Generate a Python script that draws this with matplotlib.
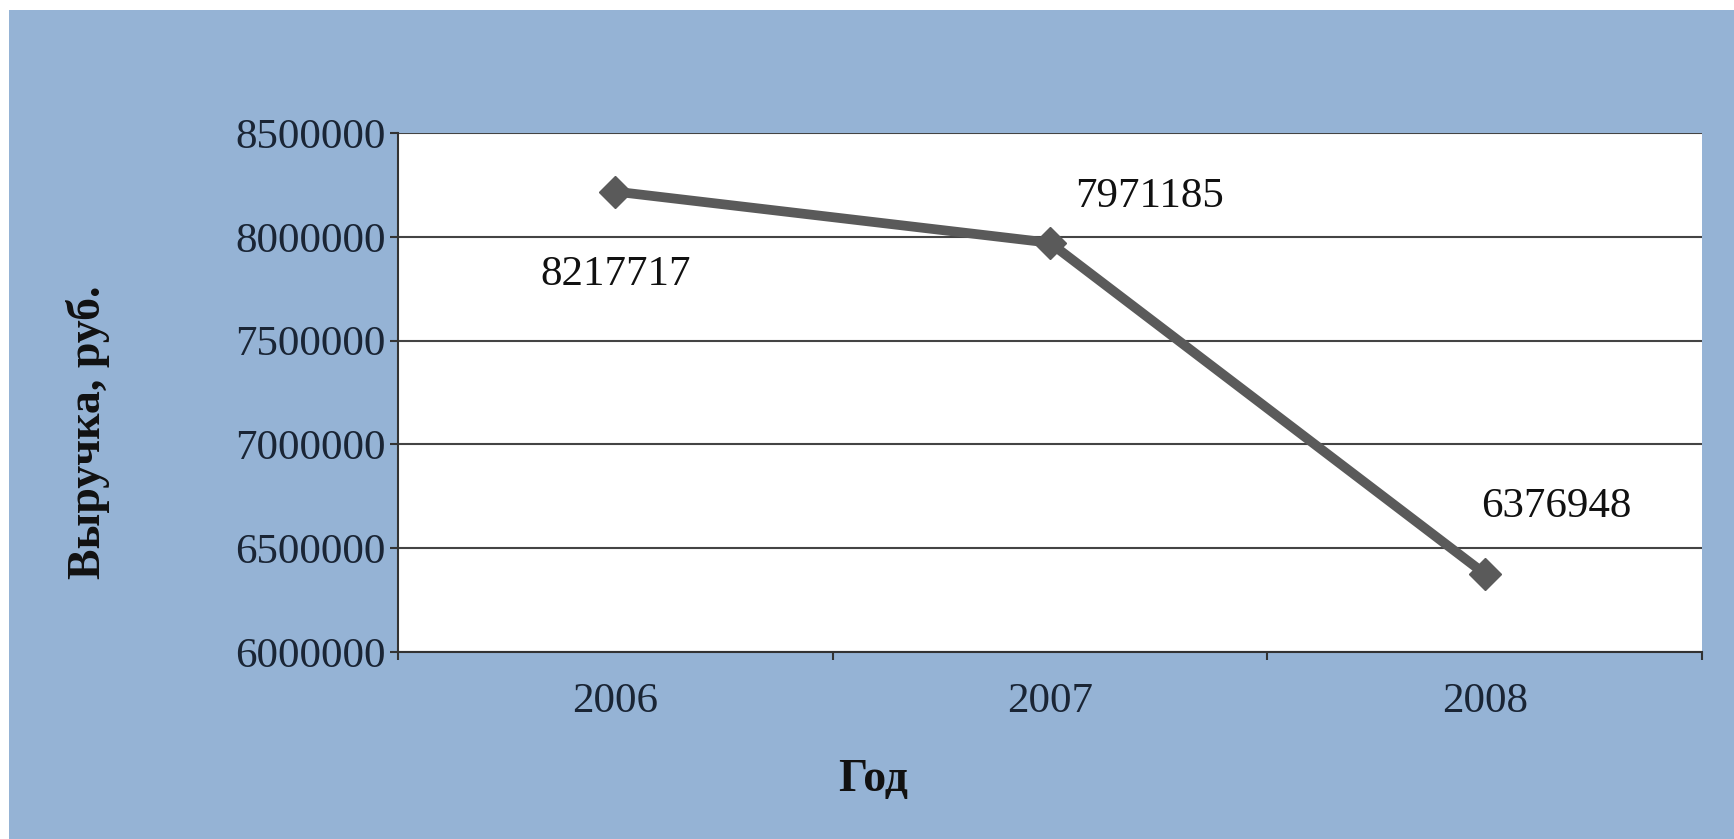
import matplotlib
matplotlib.use("Agg")
import matplotlib.pyplot as plt
from matplotlib.patches import Rectangle

# data
years = ["2006", "2007", "2008"]
revenue = [8217717, 7971185, 6376948]
label_offsets = [(0, -83), (99, 46), (72, 67)]  # pixels from marker

W, H = 1734, 839
fig = plt.figure(figsize=(W / 100, H / 100), dpi=100, facecolor="white")
plt.rcParams["font.family"] = ["Liberation Serif", "DejaVu Serif"]

# blue panel with thin white margin at top and left
fig.patches.append(Rectangle((9 / W, 0), 1 - 9 / W, (H - 10) / H,
                             transform=fig.transFigure, facecolor="#95b3d5",
                             edgecolor="none", zorder=0))

ax = fig.add_axes([398 / W, 1 - 652 / H, (1702 - 398) / W, (652 - 133) / H])
ax.set_zorder(2)
ax.set_facecolor("white")

x = list(range(len(years)))
ax.plot(x, revenue, color="#5a5a5a", lw=7, marker="D", ms=16,
        solid_capstyle="butt", zorder=3)

for xi, v, (dx, dy) in zip(x, revenue, label_offsets):
    ax.annotate(str(v), (xi, v), xytext=(dx, dy), textcoords="offset pixels",
                ha="center", va="center", fontsize=31, color="#111111")

ax.set_xlim(-0.5, 2.5)
ax.set_ylim(6000000, 8500000)
ax.set_yticks(range(6000000, 8500001, 500000))
ax.set_yticklabels([str(t) for t in range(6000000, 8500001, 500000)])
ax.set_xticks(x)
ax.set_xticklabels(years)
ax.set_xticks([-0.5, 0.5, 1.5, 2.5], minor=True)
ax.tick_params(axis="x", which="major", length=0, pad=22, labelsize=31,
               labelcolor="#1a2535")
ax.tick_params(axis="x", which="minor", length=6, width=1.5, color="#333333",
               direction="out")
ax.tick_params(axis="y", length=6, width=1.5, color="#333333", pad=3,
               labelsize=31, labelcolor="#1a2535")

ax.grid(axis="y", color="#444444", lw=1.5)
ax.set_axisbelow(True)
for s in ["top", "right"]:
    ax.spines[s].set_visible(False)
for s in ["left", "bottom"]:
    ax.spines[s].set_color("#333333")
    ax.spines[s].set_linewidth(1.5)

txt_l = fig.text(88 / W, 1 - 432 / H, "Выручка, руб.", rotation=90, ha="center",
                 va="center", fontsize=33, fontweight="bold", color="#111111")
txt_x = fig.text(873 / W, 1 - 780 / H, "Год", ha="center", va="center",
                 fontsize=33, fontweight="bold", color="#111111")
txt_l.set_zorder(3)
txt_x.set_zorder(3)

fig.savefig("out.png", dpi=100, facecolor=fig.get_facecolor())
